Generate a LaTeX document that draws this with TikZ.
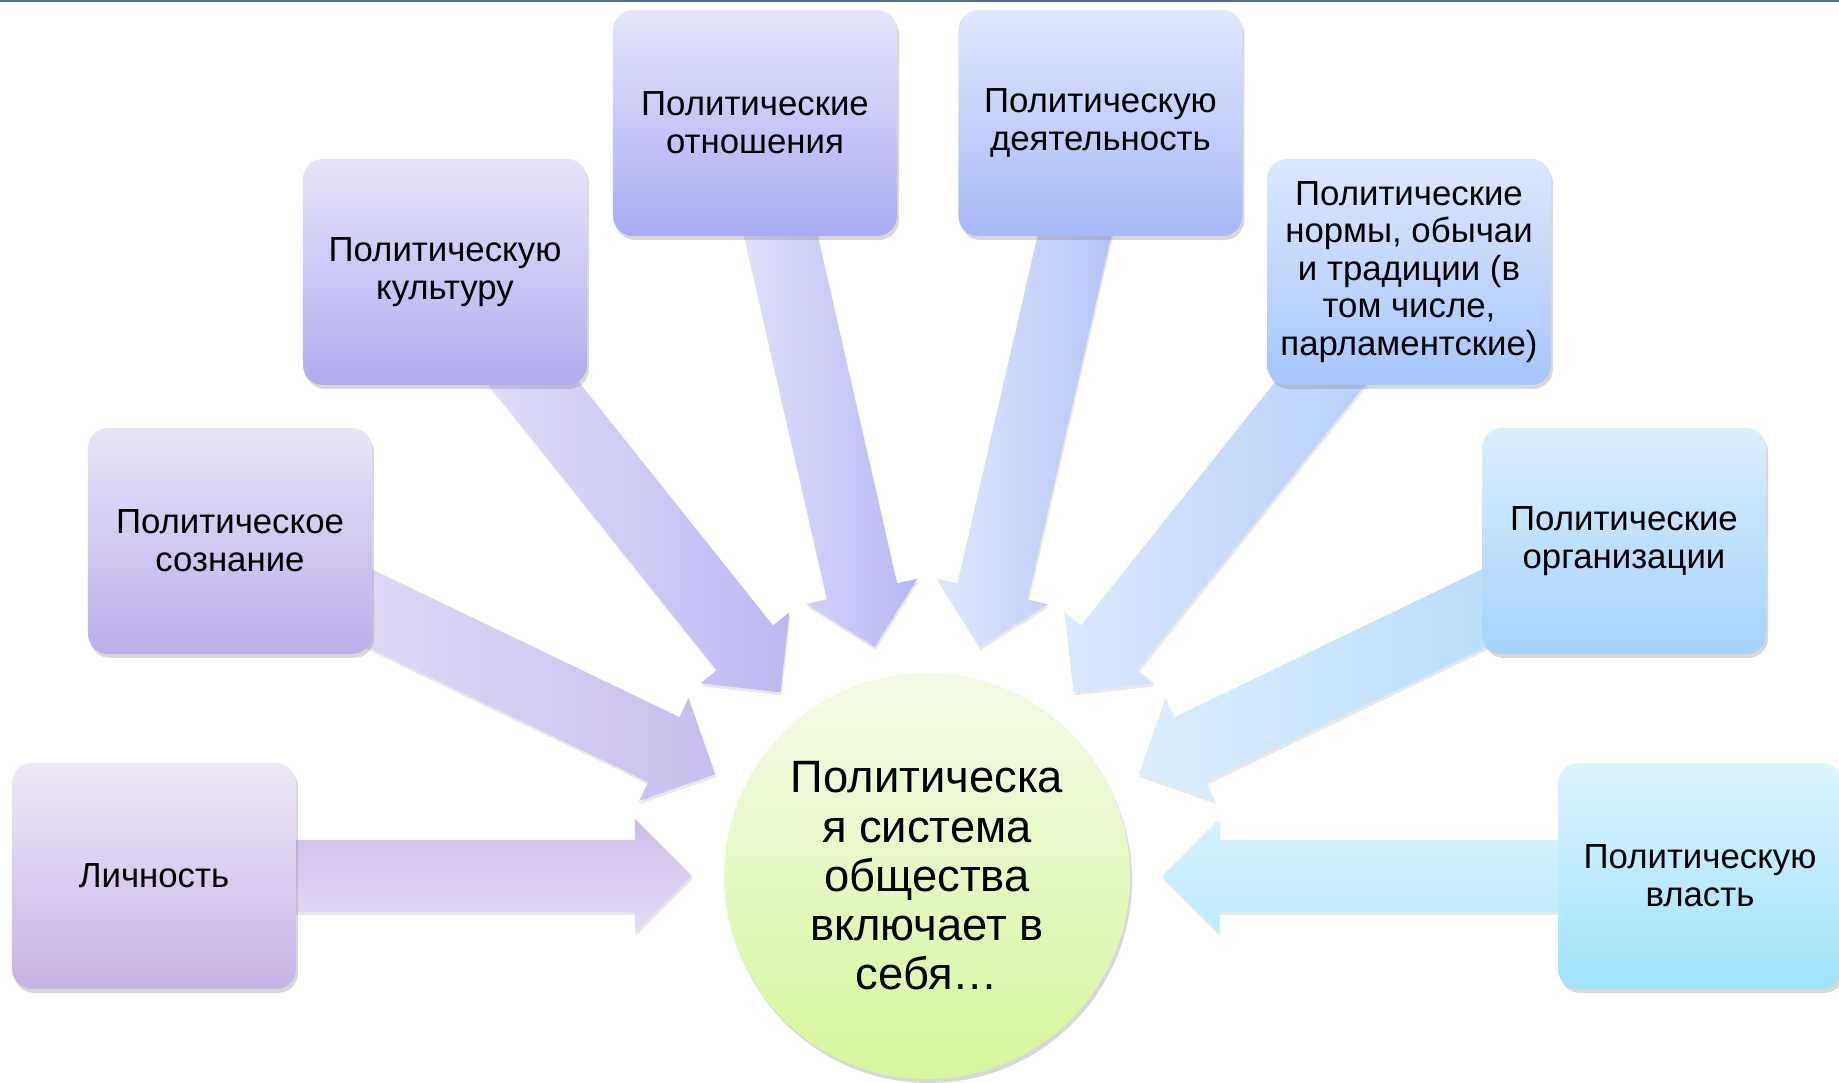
\documentclass[tikz,border=0pt]{standalone}
\usepackage{fontspec}
\setmainfont{Liberation Sans}
\usetikzlibrary{calc,positioning,shadows,backgrounds}

% box colours, left (lilac) to right (sky blue)
\definecolor{lichT}{HTML}{EEE8F8}\definecolor{lichB}{HTML}{C7B3E6}
\definecolor{sozT}{HTML}{E9E4F7}\definecolor{sozB}{HTML}{BBAEEA}
\definecolor{kultT}{HTML}{E6E4F8}\definecolor{kultB}{HTML}{B1ACF0}
\definecolor{otnT}{HTML}{E4E6FA}\definecolor{otnB}{HTML}{A9ABF2}
\definecolor{deyT}{HTML}{E0E8FC}\definecolor{deyB}{HTML}{A6B9F6}
\definecolor{normT}{HTML}{DCE8FC}\definecolor{normB}{HTML}{A6C6FA}
\definecolor{orgT}{HTML}{DCEEFD}\definecolor{orgB}{HTML}{A3D3FB}
\definecolor{vlastT}{HTML}{DCF4FD}\definecolor{vlastB}{HTML}{9FE3FB}
\definecolor{sysT}{HTML}{F3FAE8}\definecolor{sysB}{HTML}{D6F79C}
\definecolor{edge}{HTML}{506A90}

% block arrow from a box to the circle (sys)
\newcommand{\fatarrow}[2]{%
  \coordinate (#1h) at ($(sys)!2.92cm!(#1)$);
  \path[arrowbody, #2]
    ($(sys)!2.35cm!(#1)$) -- ($(#1h)!0.57cm!90:(#1)$) -- ($(#1h)!0.36cm!90:(#1)$)
    -- ($(#1)!0.36cm!-90:(sys)$) -- ($(#1)!0.36cm!90:(sys)$)
    -- ($(#1h)!0.36cm!-90:(#1)$) -- ($(#1h)!0.57cm!-90:(#1)$) -- cycle;
}

\begin{document}
\begin{tikzpicture}
  \tikzstyle{blk}=[rounded corners=0.2cm, minimum width=2.84cm, minimum height=2.26cm, align=center,
    font=\fontsize{9.9}{10.7}\selectfont, drop shadow={shadow xshift=0.02cm, shadow yshift=-0.04cm, opacity=0.3}]
  \tikzstyle{arrowbody}=[drop shadow={shadow xshift=0.01cm, shadow yshift=-0.03cm, opacity=0.18}]
  \useasboundingbox (-9.27,-2.07) rectangle (9.12,8.76);
  \draw[edge, line width=0.025cm] (-9.27,8.75) -- (9.12,8.75);

  \node[circle, minimum size=4.06cm, top color=sysT, bottom color=sysB, align=center,
    font=\fontsize{12.9}{14}\selectfont, drop shadow={shadow xshift=0.02cm, shadow yshift=-0.04cm, opacity=0.3}]
    (sys) at (0,0) {Политическа\\я система\\общества\\включает в\\себя…};

  \node[blk, top color=lichT, bottom color=lichB] (lich) at (-7.73,0) {Личность};
  \node[blk, top color=sozT, bottom color=sozB] (soz) at (-6.97,3.35) {Политическое\\сознание};
  \node[blk, top color=kultT, bottom color=kultB] (kult) at (-4.82,6.04) {Политическую\\культуру};
  \node[blk, top color=otnT, bottom color=otnB] (otn) at (-1.72,7.53) {Политические\\отношения};
  \node[blk, top color=deyT, bottom color=deyB, right=0.6cm of otn] (dey) {Политическую\\деятельность};
  \node[blk, top color=normT, bottom color=normB] (norm) at (4.82,6.04)
    {Политические\\нормы, обычаи\\и традиции (в\\том числе,\\парламентские)};
  \node[blk, top color=orgT, bottom color=orgB] (org) at (6.97,3.35) {Политические\\организации};
  \node[blk, top color=vlastT, bottom color=vlastB] (vlast) at (7.73,0) {Политическую\\власть};

  \begin{scope}[on background layer]
    \fill[white] (-9.27,-2.07) rectangle (9.12,8.76);
    \fatarrow{lich}{top color=lichB!85!lichT, bottom color=lichT!80!lichB}
    \fatarrow{soz}{left color=sozT, right color=sozB!80!white}
    \fatarrow{kult}{left color=kultT, right color=kultB!85!white}
    \fatarrow{otn}{left color=otnT, right color=otnB!85!white}
    \fatarrow{dey}{left color=deyT, right color=deyB!90!white}
    \fatarrow{norm}{left color=normT, right color=normB!90!white}
    \fatarrow{org}{left color=orgT, right color=orgB!90!white}
    \fatarrow{vlast}{top color=vlastT!90!vlastB, bottom color=vlastB!70!white}
  \end{scope}
\end{tikzpicture}
\end{document}
